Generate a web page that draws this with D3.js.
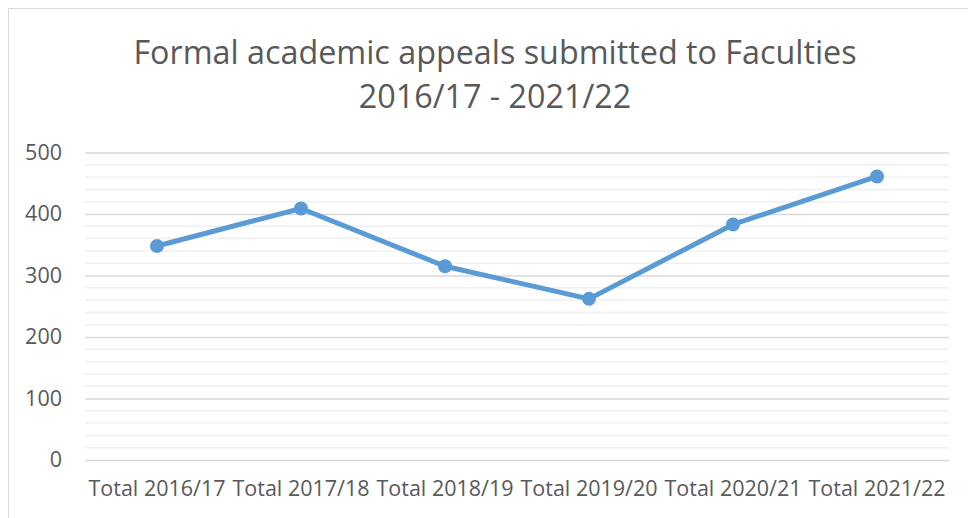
<!DOCTYPE html>
<html>
<head>
<meta charset="utf-8">
<script src="https://d3js.org/d3.v7.min.js"></script>
<style>
  body { margin: 0; background: #fff; }
  text { font-family: "Open Sans", sans-serif; fill: #595959; }
</style>
</head>
<body>
<svg width="968" height="518"></svg>
<script>
var categories = ["Total 2016/17", "Total 2017/18", "Total 2018/19", "Total 2019/20", "Total 2020/21", "Total 2021/22"];
var appeals = [348, 409, 315, 262, 383, 461];
var yTicks = [0, 100, 200, 300, 400, 500];
var titleLines = ["Formal academic appeals submitted to Faculties", "2016/17 - 2021/22"];

var svg = d3.select("svg");
var plotLeft = 85, plotRight = 949, plotTop = 152.5, plotBottom = 460;

// chart border
svg.append("rect")
  .attr("x", 8.5).attr("y", 8.5)
  .attr("width", 1000).attr("height", 1000)
  .attr("fill", "none").attr("stroke", "#d9d9d9");

var x = d3.scaleBand().domain(categories).range([plotLeft, plotRight]);
var y = d3.scaleLinear().domain([0, 500]).range([plotBottom, plotTop]);

// minor gridlines
svg.append("g").selectAll("line")
  .data(d3.range(0, 501, 20).filter(function(d){ return d % 100 != 0; }))
  .enter().append("line")
  .attr("x1", plotLeft).attr("x2", plotRight)
  .attr("y1", function(d){ return y(d); }).attr("y2", function(d){ return y(d); })
  .attr("stroke", "#f0f0f0").attr("stroke-width", 1.5);

// y axis with major gridlines
var yAxis = d3.axisLeft(y).tickValues(yTicks).tickSize(-(plotRight - plotLeft)).tickPadding(23);
var yG = svg.append("g").attr("transform", "translate(" + plotLeft + ",0)").call(yAxis)
  .attr("font-family", null).attr("font-size", null);
yG.select(".domain").remove();
yG.selectAll(".tick line").attr("stroke", "#d9d9d9").attr("stroke-width", 1.5);
yG.selectAll(".tick text").style("font-size", "21.5px").attr("fill", "#595959");

// x axis labels
var xG = svg.append("g").attr("transform", "translate(0," + plotBottom + ")")
  .call(d3.axisBottom(x).tickSize(0).tickPadding(21))
  .attr("font-family", null).attr("font-size", null);
xG.select(".domain").remove();
xG.selectAll(".tick text").style("font-size", "21.5px").attr("fill", "#595959");

// title
svg.append("g").selectAll("text")
  .data(titleLines)
  .enter().append("text")
  .attr("x", 495)
  .attr("y", function(d, i){ return 64 + i * 44; })
  .attr("text-anchor", "middle")
  .style("font-size", "32.3px")
  .text(function(d){ return d; });

// line + markers
var line = d3.line()
  .x(function(d, i){ return x(categories[i]) + x.bandwidth() / 2; })
  .y(function(d){ return y(d); });

svg.append("path")
  .datum(appeals)
  .attr("d", line)
  .attr("fill", "none")
  .attr("stroke", "#5b9bd5")
  .attr("stroke-width", 5)
  .attr("stroke-linejoin", "round");

svg.selectAll("circle")
  .data(appeals)
  .enter().append("circle")
  .attr("cx", function(d, i){ return x(categories[i]) + x.bandwidth() / 2; })
  .attr("cy", function(d){ return y(d); })
  .attr("r", 7)
  .attr("fill", "#5b9bd5");
</script>
</body>
</html>
